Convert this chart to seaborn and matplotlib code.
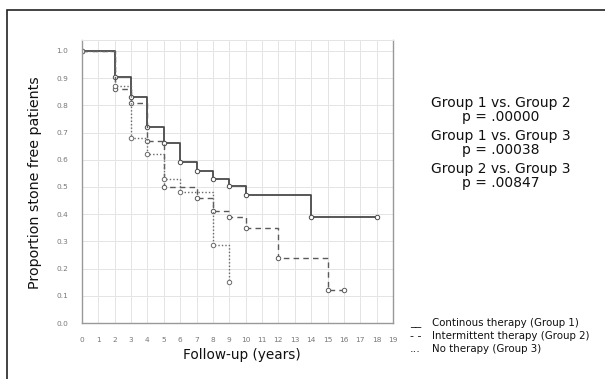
import matplotlib
matplotlib.use("Agg")
import matplotlib.pyplot as plt
import seaborn as sns
import pandas as pd
from matplotlib.patches import Rectangle

# ---- data ----
g1_time = [0, 2, 3, 4, 5, 6, 7, 8, 9, 10, 14, 18]
g1_surv = [1.0, 0.905, 0.83, 0.72, 0.66, 0.59, 0.56, 0.53, 0.505, 0.47, 0.39, 0.39]
g2_time = [0, 2, 3, 4, 5, 7, 8, 9, 10, 12, 15, 16]
g2_surv = [1.0, 0.86, 0.81, 0.67, 0.50, 0.46, 0.41, 0.39, 0.35, 0.24, 0.12, 0.12]
g3_time = [0, 2, 3, 4, 5, 6, 8, 9]
g3_surv = [1.0, 0.87, 0.68, 0.62, 0.53, 0.48, 0.285, 0.15]

groups = ["Continous therapy (Group 1)", "Intermittent therapy (Group 2)", "No therapy (Group 3)"]
x_ticks = list(range(0, 20))
y_ticks = [0.0, 0.1, 0.2, 0.3, 0.4, 0.5, 0.6, 0.7, 0.8, 0.9, 1.0]
pvals_text = ["Group 1 vs. Group 2", "p = .00000",
              "Group 1 vs. Group 3", "p = .00038",
              "Group 2 vs. Group 3", "p = .00847"]
legend_syms = ["__", "- -", "..."]

sns.set_theme(style="whitegrid")
plt.rcParams["font.family"] = ["DejaVu Sans"]

fig = plt.figure(figsize=(6.05, 3.79), dpi=100)
ax = fig.add_axes([82/605, 1-323/379, (393-82)/605, (323-40)/379])

df = pd.concat([
    pd.DataFrame({"t": g1_time, "s": g1_surv, "g": groups[0]}),
    pd.DataFrame({"t": g2_time, "s": g2_surv, "g": groups[1]}),
    pd.DataFrame({"t": g3_time, "s": g3_surv, "g": groups[2]}),
])

styles = {groups[0]: dict(ls="-", lw=1.3, color="#4a4a4a"),
          groups[1]: dict(ls=(0, (4, 3)), lw=1.0, color="#5a5a5a"),
          groups[2]: dict(ls=(0, (1, 1.5)), lw=1.0, color="#6a6a6a")}
for g in groups:
    sub = df[df["g"] == g]
    st = styles[g]
    sns.lineplot(data=sub, x="t", y="s", ax=ax, drawstyle="steps-post",
                 linestyle=st["ls"], linewidth=st["lw"], color=st["color"],
                 marker="o", markersize=3.2, markerfacecolor="white",
                 markeredgecolor=st["color"], markeredgewidth=0.7,
                 estimator=None, legend=False)

ax.set_xlim(0, 19)
ax.set_ylim(0, 1.04)
ax.set_xticks(x_ticks)
ax.set_yticks(y_ticks)
ax.set_xticklabels([str(v) for v in x_ticks], fontsize=5.3, color="#777777")
ax.set_yticklabels([f"{v:.1f}" for v in y_ticks], fontsize=5.3, color="#777777")
ax.tick_params(axis="both", length=0, pad=10)
ax.grid(True, color="#e4e4e4", linewidth=0.7)
ax.set_xlabel("")
ax.set_ylabel("")
for side in ["left", "bottom", "right"]:
    ax.spines[side].set_visible(True)
    ax.spines[side].set_color("#999999")
    ax.spines[side].set_linewidth(1.0)
ax.spines["top"].set_color("#e4e4e4")
ax.spines["top"].set_linewidth(0.7)

fig.text(35/605, 1-183/379, "Proportion stone free patients", rotation=90,
         ha="center", va="center", fontsize=10.3, color="#111111")
fig.text(242/605, 1-355/379, "Follow-up (years)", ha="center", va="center",
         fontsize=9.8, color="#111111")

ys = [103, 117, 136, 150, 169, 183]
for txt, yy in zip(pvals_text, ys):
    fig.text(501/605, 1-yy/379, txt, ha="center", va="center", fontsize=10, color="#111111")

leg_y = [323, 336, 349]
for sym, lab, yy in zip(legend_syms, groups, leg_y):
    fig.text(410/605, 1-yy/379, sym, ha="left", va="center", fontsize=8, color="#111111")
    fig.text(432/605, 1-yy/379, lab, ha="left", va="center", fontsize=7.4, color="#111111")

fig.patches.append(Rectangle((7/605, -0.1), 1.2, 1 - 10/379 + 0.1, transform=fig.transFigure,
                             fill=False, edgecolor="#222222", linewidth=1.2))

fig.savefig("out.png", dpi=100)
